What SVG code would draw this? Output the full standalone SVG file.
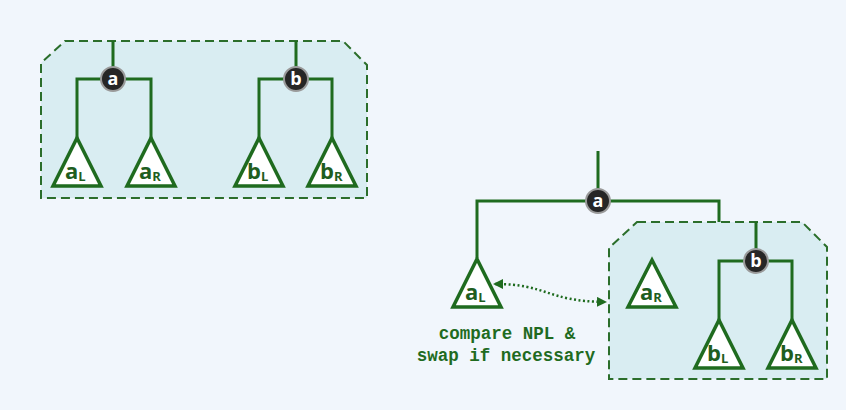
<svg xmlns="http://www.w3.org/2000/svg" width="846" height="410" viewBox="0 0 846 410">
<style>
.bg{fill:#f1f6fc}
.box{fill:#d9edf2;stroke:#2b6e2b;stroke-width:2;stroke-dasharray:9 5}
.edge{fill:none;stroke:#1f6b1f;stroke-width:3}
.tri{fill:#ffffff;stroke:#1f6b1f;stroke-width:3.5;stroke-linejoin:miter}
.node{fill:#262626;stroke:#9a9a9a;stroke-width:2}
.nt{font-family:"Open Sans","DejaVu Sans",sans-serif;font-weight:bold;font-size:18px;fill:#ffffff;text-anchor:middle}
.tl{font-family:"Open Sans","DejaVu Sans",sans-serif;font-weight:bold;font-size:22px;fill:#1f5e1f}
.sub{font-size:13px}
.cap{font-family:"Liberation Mono","DejaVu Sans Mono",monospace;font-weight:bold;font-size:17.5px;fill:#1f6b1f;text-anchor:middle}
.dot{fill:none;stroke:#1f6b1f;stroke-width:2.5;stroke-dasharray:2 2.5}
</style>
<defs>
<marker id="ah" viewBox="0 0 10 10" refX="8" refY="5" markerWidth="4" markerHeight="4" orient="auto-start-reverse">
<path d="M0,0 L10,5 L0,10 z" fill="#1f6b1f"/>
</marker>
</defs>
<rect class="bg" x="0" y="0" width="846" height="410"/>

<g id="box1">
<polygon class="box" points="65,41 343,41 367,65 367,198 41,198 41,63"/>
</g>
<g id="box2">
<polygon class="box" points="637,222 802,222 827,247 827,379 609,379 609,248"/>
</g>

<g id="connectors">
<path class="edge" d="M113,41 V79 M77,138 V79 H151 V138"/>
<path class="edge" d="M296,41 V79 M259,138 V79 H332 V138"/>
<path class="edge" d="M598,151 V201 M477,258 V201 H719 V222"/>
<path class="edge" d="M756,222 V261 M719,320 V261 H792 V320"/>
<path class="dot" d="M495,284 C548,284 545,301 605,302" marker-start="url(#ah)" marker-end="url(#ah)"/>
</g>

<g id="tri-aL-1"><polygon class="tri" points="77,138 101,186 53,186"/><text class="tl" x="65" y="179">a<tspan class="sub" dy="2">L</tspan></text></g>
<g id="tri-aR-1"><polygon class="tri" points="151,138 175,186 127,186"/><text class="tl" x="139" y="179">a<tspan class="sub" dy="2">R</tspan></text></g>
<g id="tri-bL-1"><polygon class="tri" points="259,138 283,186 235,186"/><text class="tl" x="247" y="179">b<tspan class="sub" dy="2">L</tspan></text></g>
<g id="tri-bR-1"><polygon class="tri" points="332,138 356,186 308,186"/><text class="tl" x="320" y="179">b<tspan class="sub" dy="2">R</tspan></text></g>

<g id="node-a-1"><circle class="node" cx="113" cy="79" r="12"/><text class="nt" x="113" y="85">a</text></g>
<g id="node-b-1"><circle class="node" cx="296" cy="79" r="12"/><text class="nt" x="296" y="85">b</text></g>

<g id="tri-aL-2"><polygon class="tri" points="477,259 501,307 453,307"/><text class="tl" x="465" y="300">a<tspan class="sub" dy="2">L</tspan></text></g>
<g id="tri-aR-2"><polygon class="tri" points="652,260 676,307 628,307"/><text class="tl" x="640" y="300">a<tspan class="sub" dy="2">R</tspan></text></g>
<g id="tri-bL-2"><polygon class="tri" points="719,320 743,368 695,368"/><text class="tl" x="707" y="361">b<tspan class="sub" dy="2">L</tspan></text></g>
<g id="tri-bR-2"><polygon class="tri" points="792,320 816,368 768,368"/><text class="tl" x="780" y="361">b<tspan class="sub" dy="2">R</tspan></text></g>

<g id="node-a-2"><circle class="node" cx="598" cy="201" r="12"/><text class="nt" x="598" y="207">a</text></g>
<g id="node-b-2"><circle class="node" cx="756" cy="261" r="12"/><text class="nt" x="756" y="267">b</text></g>

<g id="caption">
<text class="cap" x="507" y="339">compare NPL &amp;</text>
<text class="cap" x="506" y="361">swap if necessary</text>
</g>
</svg>
